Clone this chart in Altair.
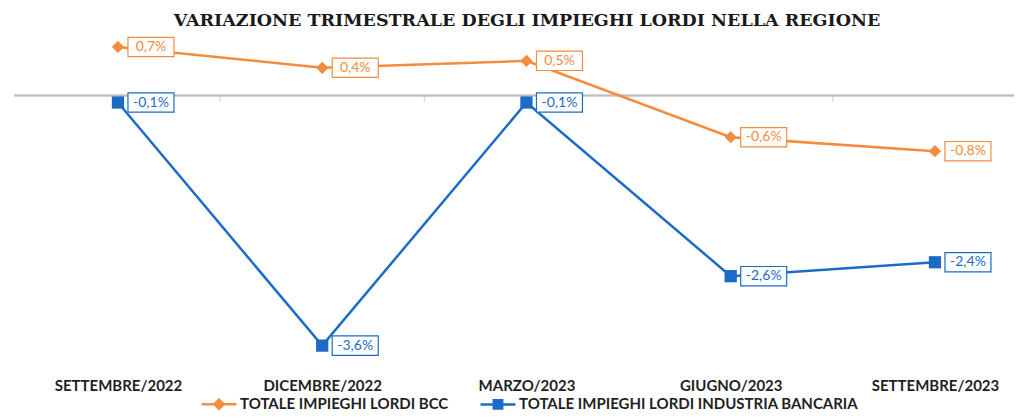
import json
import altair as alt
import pandas as pd

# ---- data -------------------------------------------------------------
categories = ["SETTEMBRE/2022", "DICEMBRE/2022", "MARZO/2023", "GIUGNO/2023", "SETTEMBRE/2023"]
series_names = ["TOTALE IMPIEGHI LORDI BCC", "TOTALE IMPIEGHI LORDI INDUSTRIA BANCARIA"]
bcc_values = [0.7, 0.4, 0.5, -0.6, -0.8]
industria_values = [-0.1, -3.6, -0.1, -2.6, -2.4]

colors = ["#F28C3E", "#1C6BC6"]
title_text = "VARIAZIONE TRIMESTRALE DEGLI IMPIEGHI LORDI NELLA REGIONE"

def fmt(v):
    return f"{v:.1f}".replace(".", ",") + "%"

rows = []
for name, vals in zip(series_names, [bcc_values, industria_values]):
    for i, v in enumerate(vals):
        rows.append({"idx": i, "cat": categories[i], "series": name, "value": v, "label": fmt(v)})
df = pd.DataFrame(rows)

bounds = pd.DataFrame({"idx": [i + 0.5 for i in range(len(categories) - 1)], "value": [0.0] * (len(categories) - 1)})

LABEL_FONT = "Lato"
Y_DOMAIN = [-3.85, 0.8]

x_enc = alt.X(
    "idx:Q",
    scale=alt.Scale(domain=[-0.509, 4.387], nice=False, zero=False),
    axis=alt.Axis(
        values=list(range(len(categories))),
        labelExpr=json.dumps(categories) + "[datum.value]",
        title=None, grid=False, domain=False, ticks=False,
        labelFont=LABEL_FONT, labelFontSize=15, labelFontWeight="bold",
        labelColor="#1f1f1f", labelPadding=15, labelFlush=False, labelOverlap=False,
    ),
)
y_enc = alt.Y("value:Q", scale=alt.Scale(domain=Y_DOMAIN, nice=False, zero=False), axis=None)

leg = alt.Legend(
    title=None, orient="none", legendX=186, legendY=345, direction="horizontal",
    labelFont=LABEL_FONT, labelFontSize=15, labelFontWeight="bold", labelColor="#1f1f1f",
    symbolSize=1225, symbolStrokeWidth=2.5, symbolOpacity=1, columnPadding=26, labelOffset=2,
    labelLimit=500,
)
color_enc = alt.Color("series:N", scale=alt.Scale(domain=series_names, range=colors), legend=leg)

base = alt.Chart(df)

zero_rule = alt.Chart(bounds).mark_rule(color="#BFBFBF", strokeWidth=1.5).encode(
    y=alt.Y(datum=0, scale=alt.Scale(domain=Y_DOMAIN, nice=False, zero=False), axis=None))
ticks = alt.Chart(bounds).mark_tick(orient="vertical", size=6, thickness=1.2, color="#BFBFBF", yOffset=3).encode(x=x_enc, y=y_enc)

lines = base.mark_line(strokeWidth=2.5).encode(x=x_enc, y=y_enc, color=color_enc, detail="series:N")

# tiny points hidden under the real markers: they give the legend its marker shapes
legend_layer = base.mark_point(size=4, filled=True, opacity=1).encode(
    x=x_enc, y=y_enc, color=color_enc,
    shape=alt.Shape("series:N", scale=alt.Scale(domain=series_names, range=[
        "M-1,0H1M-0.26,0L0,-0.26L0.26,0L0,0.26Z",
        "M-1,0H1M-0.24,-0.24H0.24V0.24H-0.24Z",
    ]), legend=leg),
)

mk_bcc = base.transform_filter(alt.datum.series == series_names[0]).mark_point(
    shape="diamond", filled=True, size=150, opacity=1, color=colors[0]).encode(x=x_enc, y=y_enc)
mk_ind = base.transform_filter(alt.datum.series == series_names[1]).mark_point(
    shape="square", filled=True, size=150, opacity=1, color=colors[1]).encode(x=x_enc, y=y_enc)

boxes = base.mark_point(
    shape="M-1,-0.42H1V0.42H-1Z", size=2116, filled=False, fill="white", fillOpacity=1,
    strokeWidth=1.2, opacity=1, xOffset=33,
).encode(x=x_enc, y=y_enc, color=color_enc)

texts = base.mark_text(dx=33, fontSize=14, font=LABEL_FONT, align="center", baseline="middle").encode(
    x=x_enc, y=y_enc, text="label:N", color=color_enc)

chart = alt.layer(zero_rule, ticks, lines, legend_layer, mk_bcc, mk_ind, boxes, texts).properties(
    width=1000, height=323,
    title=alt.TitleParams(title_text, font="DejaVu Serif", fontSize=17.5, fontWeight="bold",
                          color="#1a1a1a", anchor="middle", offset=5, dx=13),
    autosize=alt.AutoSizeParams(type="none"),
    padding={"left": 6, "top": 32, "right": 0, "bottom": 48},
).configure_view(stroke=None)

chart.save("out.html", embed_options={"renderer": "svg", "actions": False})
